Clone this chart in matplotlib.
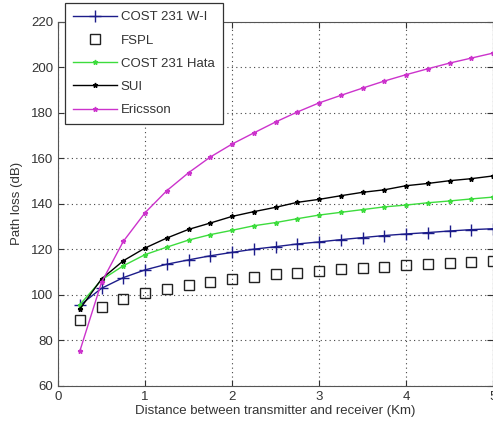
import matplotlib
matplotlib.use("Agg")
import matplotlib.pyplot as plt

plt.rcParams['font.family'] = ['Liberation Sans', 'DejaVu Sans']

distance = [0.25, 0.5, 0.75, 1.0, 1.25, 1.5, 1.75, 2.0, 2.25, 2.5,
            2.75, 3.0, 3.25, 3.5, 3.75, 4.0, 4.25, 4.5, 4.75, 5.0]
cost231_wi = [95.3, 102.8, 107.5, 110.9, 113.4, 115.3, 117.1, 118.6, 120.0, 121.1,
              122.3, 123.2, 124.2, 125.1, 126.0, 126.7, 127.3, 128.0, 128.6, 129.0]
fspl = [88.7, 94.7, 98.2, 100.6, 102.5, 104.1, 105.6, 106.9, 107.6, 108.9,
        109.7, 110.4, 111.2, 111.6, 112.3, 112.9, 113.7, 114.0, 114.3, 114.7]
cost231_hata = [95.6, 106.5, 112.7, 117.6, 120.9, 124.0, 126.4, 128.3, 130.3, 131.7,
                133.4, 135.0, 136.2, 137.4, 138.6, 139.4, 140.4, 141.2, 142.1, 142.9]
sui = [93.6, 106.9, 114.9, 120.5, 124.9, 128.7, 131.5, 134.4, 136.5, 138.4,
       140.6, 141.9, 143.5, 145.0, 146.1, 147.9, 148.9, 150.1, 151.0, 152.2]
ericsson = [75.1, 105.4, 123.4, 136.0, 145.7, 153.6, 160.5, 166.2, 171.1, 175.9,
            180.3, 184.3, 187.6, 190.8, 193.9, 196.7, 199.3, 201.8, 204.0, 206.2]

xticks = [0, 1, 2, 3, 4, 5]
yticks = [60, 80, 100, 120, 140, 160, 180, 200, 220]

W, H = 493, 426
fig = plt.figure(figsize=(W / 100, H / 100), dpi=100)
left, right, top, bottom = 58, 493, 21.7, 385.7
ax = fig.add_axes([left / W, 1 - bottom / H, (right - left) / W, (bottom - top) / H])

ax.plot(distance, cost231_wi, color='#1c1c8a', marker='+', markersize=8,
        markeredgewidth=1.0, linewidth=1.0, label='COST 231 W-I')
ax.plot(distance, fspl, linestyle='none', marker='s', markersize=7,
        markerfacecolor='none', markeredgecolor='#222222', markeredgewidth=1.0,
        label='FSPL')
ax.plot(distance, cost231_hata, color='#3ddc3d', marker='*', markersize=3.5,
        linewidth=1.0, label='COST 231 Hata')
ax.plot(distance, sui, color='black', marker='*', markersize=3.5,
        linewidth=1.0, label='SUI')
ax.plot(distance, ericsson, color='#cc33cc', marker='*', markersize=3.5,
        linewidth=1.0, label='Ericsson')

ax.set_xlim(0, 5)
ax.set_ylim(60, 220)
ax.set_xticks(xticks)
ax.set_yticks(yticks)
ax.tick_params(direction='in', labelsize=9.5, colors='#333333', top=True,
               right=True, length=4, width=0.8)
ax.tick_params(axis='both', labelcolor='#333333')
ax.grid(True, linestyle=(0, (1, 3)), color='#444444', linewidth=0.8)
for s in ax.spines.values():
    s.set_color('#555555')
    s.set_linewidth(0.8)

ax.set_xlabel('Distance between transmitter and receiver (Km)', fontsize=9.5,
              color='#333333', labelpad=2)
ax.set_ylabel('Path loss (dB)', fontsize=9.5, color='#333333', labelpad=6)

leg = ax.legend(loc='upper left', bbox_to_anchor=(65 / W, 1 - 3 / H),
                bbox_transform=fig.transFigure, fontsize=9.5, frameon=True,
                fancybox=False, edgecolor='#333333', framealpha=1.0,
                borderpad=0.62, labelspacing=0.83, handlelength=3.35,
                handletextpad=0.25, borderaxespad=0)
leg.get_frame().set_linewidth(0.9)
for t in leg.get_texts():
    t.set_color('#333333')

fig.savefig('out.png', dpi=100)
